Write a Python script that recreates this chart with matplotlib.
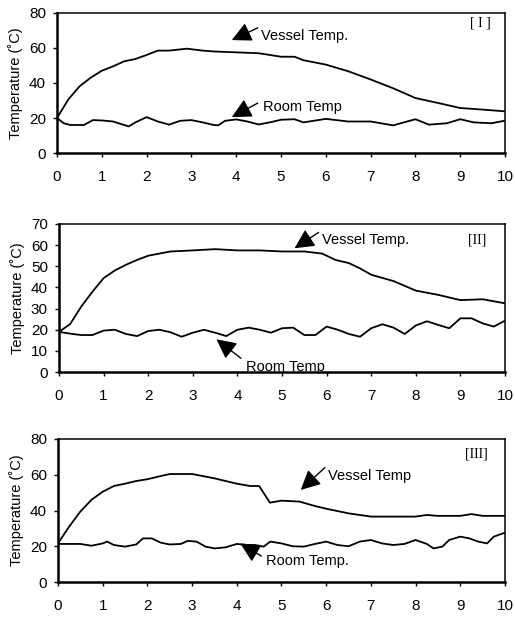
import numpy as np
import matplotlib
matplotlib.use('Agg')
import matplotlib.pyplot as plt

plt.rcParams['font.family'] = ['Liberation Sans', 'DejaVu Sans']

# panel I
t1_vessel = [0, 0.25, 0.5, 0.75, 1, 1.25, 1.5, 1.75, 2, 2.25, 2.5, 2.9, 3.25, 3.5, 4, 4.5,
             5, 5.3, 5.5, 6, 6.5, 7, 7.5, 8, 8.5, 9, 9.5, 10]
vessel1 = [20, 30.5, 38, 43, 47, 49.5, 52.4, 53.7, 56, 58.5, 58.5, 59.6, 58.5, 58, 57.5, 57,
           55, 55, 53, 50.5, 46.7, 42, 37, 31.4, 28.6, 25.7, 24.8, 23.8]
t1_room = [0, 0.15, 0.3, 0.6, 0.8, 1.0, 1.25, 1.5, 1.6, 1.75, 2.0, 2.25, 2.5, 2.75, 3.0, 3.25,
           3.5, 3.6, 3.75, 4.0, 4.25, 4.5, 4.75, 5.0, 5.3, 5.5, 6.0, 6.5, 7.0, 7.5, 8.0, 8.3,
           8.7, 9.0, 9.3, 9.7, 10]
room1 = [20, 17, 16, 16, 18.8, 18.6, 18, 16, 15.2, 17.5, 20.5, 18, 16.2, 18.4, 18.8, 17.5,
         16, 15.8, 18.4, 19.2, 18, 16.3, 17.5, 19, 19.3, 17.5, 19.5, 18, 18, 15.8, 19.3, 16.2,
         17, 19.3, 17.5, 17, 18.5]

# panel II
t2_vessel = [0, 0.25, 0.5, 0.75, 1, 1.25, 1.5, 1.75, 2, 2.25, 2.5, 3, 3.5, 4, 4.5, 5, 5.5,
             5.9, 6.2, 6.5, 6.75, 7, 7.5, 8, 8.5, 9, 9.5, 10]
vessel2 = [19, 22.7, 31, 38, 44.4, 48, 50.7, 53, 55, 56, 57, 57.5, 58.1, 57.5, 57.5, 57, 57,
           56, 53, 51.5, 49, 46, 43, 38.5, 36.5, 34, 34.4, 32.5]
t2_room = [0, 0.3, 0.5, 0.75, 1.0, 1.25, 1.5, 1.75, 2.0, 2.25, 2.5, 2.75, 3.0, 3.25, 3.5,
           3.75, 4.0, 4.25, 4.5, 4.75, 5.0, 5.25, 5.5, 5.75, 6.0, 6.25, 6.5, 6.75, 7.0, 7.25,
           7.5, 7.75, 8.0, 8.25, 8.5, 8.75, 9.0, 9.25, 9.5, 9.75, 10]
room2 = [19, 18, 17.5, 17.5, 19.6, 20, 18, 17, 19.4, 20, 18.8, 16.7, 18.6, 20, 18.6,
         17, 20, 21, 20, 18.6, 20.7, 21, 17.5, 17.5, 21.5, 20, 18, 16.7, 20.7, 22.6,
         21, 18, 22, 24, 22.3, 20.7, 25.4, 25.4, 23, 21.5, 24.3]

# panel III
t3_vessel = [0, 0.25, 0.5, 0.75, 1, 1.25, 1.5, 1.75, 2, 2.25, 2.5, 3, 3.5, 4, 4.3, 4.5,
             4.63, 4.74, 5, 5.4, 5.75, 6, 6.5, 7, 7.5, 8, 8.25, 8.5, 9, 9.25, 9.5, 10]
vessel3 = [21.6, 31, 39.4, 46, 50.5, 53.7, 55, 56.5, 57.5, 59, 60.4, 60.4, 58, 55, 53.7, 53.7,
           48.7, 44.4, 45.5, 45, 42.5, 41, 38.4, 36.6, 36.6, 36.6, 37.5, 37, 37, 38, 37, 37]
t3_room = [0, 0.5, 0.75, 1.0, 1.1, 1.25, 1.5, 1.75, 1.9, 2.1, 2.3, 2.5, 2.75, 2.9, 3.1, 3.3,
           3.5, 3.75, 4.0, 4.25, 4.4, 4.6, 4.75, 5.0, 5.25, 5.5, 5.75, 6.0, 6.25, 6.5, 6.75,
           7.0, 7.25, 7.5, 7.75, 8.0, 8.25, 8.4, 8.6, 8.75, 9.0, 9.2, 9.4, 9.6, 9.75, 10]
room3 = [21.3, 21.3, 20.3, 21.6, 22.6, 20.7, 19.8, 21, 24.4, 24.4, 22, 21, 21.3, 23, 22.6, 19.8,
         18.8, 19.4, 21.3, 20.7, 20.7, 19.8, 22.6, 21.6, 20, 19.8, 21.3, 22.6, 20.7, 20, 22.6,
         23.5, 21.6, 20.7, 21.3, 23.5, 21.3, 18.8, 19.8, 23.5, 25.4, 24.4, 22.6, 21.6, 25.4, 27.6]

fig = plt.figure(figsize=(5.15, 6.17), dpi=100)

panels = [
    dict(rect=[0.1107, 0.752, 0.870, 0.227], tv=t1_vessel, v=vessel1, tr=t1_room, r=room1,
         ymax=80, ystep=20, tag='[ I ]', tagxy=(9.45, 74),
         vtext='Vessel Temp.', vxy=(4.55, 67), vtip=(3.9, 64.5), vtail=(4.48, 71.5),
         rtext='Room Temp', rxy=(4.6, 26), rtip=(3.9, 20.5), rtail=(4.48, 28.5)),
    dict(rect=[0.1146, 0.397, 0.866, 0.240], tv=t2_vessel, v=vessel2, tr=t2_room, r=room2,
         ymax=70, ystep=10, tag='[II]', tagxy=(9.37, 62.5),
         vtext='Vessel Temp.', vxy=(5.9, 62.5), vtip=(5.28, 58.5), vtail=(5.82, 66)),
    dict(rect=[0.1126, 0.0567, 0.868, 0.2318], tv=t3_vessel, v=vessel3, tr=t3_room, r=room3,
         ymax=80, ystep=20, tag='[III]', tagxy=(9.37, 71.5),
         vtext='Vessel Temp', vxy=(6.05, 59.5), vtip=(5.43, 51.5), vtail=(5.97, 64)),
]
panels[1].update(rtext='Room Temp', rxy=(4.2, 2.6), rtip=(3.53, 15.5), rtail=(4.08, 6.5))
panels[2].update(rtext='Room Temp.', rxy=(4.65, 11.5), rtip=(4.08, 21.5), rtail=(4.55, 14.5))

for p in panels:
    ax = fig.add_axes(p['rect'])
    ax.plot(p['tv'], p['v'], color='black', lw=1.3)
    ax.plot(p['tr'], p['r'], color='black', lw=1.3)
    ax.set_xlim(0, 10)
    ax.set_ylim(0, p['ymax'])
    ax.set_xticks(range(0, 11))
    ax.set_yticks(np.arange(0, p['ymax'] + 1, p['ystep']))
    ax.tick_params(axis='both', labelsize=11, direction='out', length=3, width=1, pad=5)
    ax.tick_params(axis='x', pad=9)
    ax.set_ylabel('Temperature (˚C)', fontsize=10.5)
    ax.yaxis.set_label_coords(-0.076, 0.5)
    for s in ['left', 'bottom']:
        ax.spines[s].set_linewidth(1.8)
    for s in ['top', 'right']:
        ax.spines[s].set_linewidth(1.1)
    ax.text(p['tagxy'][0], p['tagxy'][1], p['tag'], fontsize=10, va='center', ha='center',
            family='Liberation Serif')
    ax.text(p['vxy'][0], p['vxy'][1], p['vtext'], fontsize=10.5, va='center', ha='left')
    ax.text(p['rxy'][0], p['rxy'][1], p['rtext'], fontsize=10.5, va='center', ha='left')
    arrow = dict(arrowstyle='-|>,head_length=0.8,head_width=0.4', color='black', lw=1,
                 shrinkA=0, shrinkB=0, mutation_scale=15)
    ax.annotate('', xy=p['vtip'], xytext=p['vtail'], arrowprops=arrow)
    ax.annotate('', xy=p['rtip'], xytext=p['rtail'], arrowprops=arrow)

fig.savefig('out.png', dpi=100)
